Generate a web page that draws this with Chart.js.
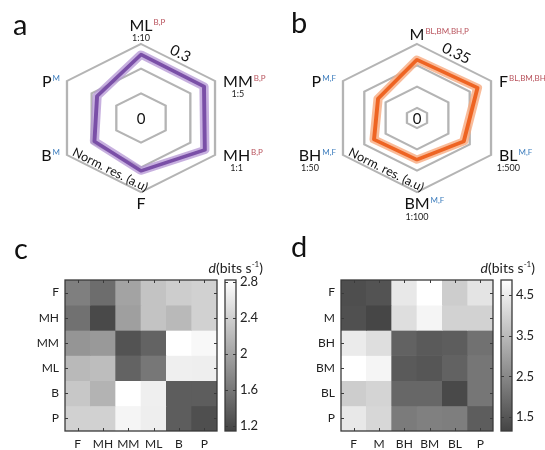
<!DOCTYPE html>
<html>
<head>
<meta charset="utf-8">
<script src="https://cdn.jsdelivr.net/npm/chart.js@4.4.1/dist/chart.umd.min.js"></script>
<style>
  body { margin: 0; background: #fff; font-family: Lato, sans-serif; }
  #fig { position: relative; width: 545px; height: 450px; overflow: hidden; }
  canvas { position: absolute; }
  .letter { position: absolute; font-size: 29px; line-height: 1; color: #111; }
  .cbt { position: absolute; font-size: 14px; line-height: 1; color: #222; white-space: nowrap; }
  .cbt sup { font-size: 8px; vertical-align: 6px; line-height: 0; }
</style>
</head>
<body>
<div id="fig">
  <canvas id="radarA" width="270" height="225" style="left:0;top:0"></canvas>
  <canvas id="radarB" width="275" height="225" style="left:270px;top:0"></canvas>
  <canvas id="heatC" width="222" height="188" style="left:0;top:262px"></canvas>
  <canvas id="barC" width="50" height="188" style="left:222px;top:262px"></canvas>
  <canvas id="heatD" width="222" height="188" style="left:276px;top:262px"></canvas>
  <canvas id="barD" width="50" height="188" style="left:498px;top:262px"></canvas>
  <div class="letter" style="left:13px;top:9px">a</div>
  <div class="letter" style="left:291px;top:7px">b</div>
  <div class="letter" style="left:14px;top:233px">c</div>
  <div class="letter" style="left:291px;top:231px">d</div>
  <div class="cbt" style="right:282px;top:261px"><i>d</i>(bits s<sup>-1</sup>)</div>
  <div class="cbt" style="right:10px;top:261px"><i>d</i>(bits s<sup>-1</sup>)</div>
</div>
<script>
// ---- panel a: radar, mouse-lever ratios ----
const axesA = ["ML", "MM", "MH", "F", "B", "P"];
const supA = ["B,P", "B,P", "B,P", "", "M", "M"];
const ratioA = ["1:10", "1:5", "1:1", "", "", ""];
const resA = [0.236, 0.233, 0.238, 0.171, 0.133, 0.117];
const ringsA = [0, 0.15, 0.3];
const minA = -0.15;

// ---- panel b ----
const axesB = ["M", "F", "BL", "BM", "BH", "P"];
const supB = ["BL,BM,BH,P", "BL,BM,BH,P", "M,F", "M,F", "M,F", "M,F"];
const ratioB = ["", "", "1:500", "1:100", "1:50", ""];
const resB = [0.264, 0.276, 0.201, 0.173, 0.180, 0.158];
const ringsB = [0, 0.35 / 3, 0.7 / 3, 0.35];
const minB = -0.055;

// ---- panel c: distances, rows top->bottom ----
const labelsC = ["F", "MH", "MM", "ML", "B", "P"];
const distC = [
  [1.67, 1.51, 2.00, 2.28, 2.37, 2.41],
  [1.55, 1.19, 1.96, 2.28, 2.19, 2.41],
  [1.87, 1.91, 1.28, 1.42, 2.82, 2.76],
  [2.19, 2.23, 1.42, 1.60, 2.68, 2.67],
  [2.32, 2.14, 2.82, 2.68, 1.37, 1.37],
  [2.41, 2.41, 2.73, 2.67, 1.37, 1.24]
];
const rangeC = [1.145, 2.82];
const cbTicksC = [1.2, 1.6, 2, 2.4, 2.8];

// ---- panel d ----
const labelsD = ["F", "M", "BH", "BM", "BL", "P"];
const distD = [
  [1.36, 1.46, 4.41, 4.87, 3.87, 4.33],
  [1.40, 1.20, 4.21, 4.67, 3.97, 3.97],
  [4.47, 4.21, 1.76, 1.60, 1.66, 2.06],
  [4.87, 4.67, 1.60, 1.52, 1.76, 2.16],
  [3.87, 4.01, 1.86, 1.86, 1.26, 2.16],
  [4.41, 4.07, 2.26, 2.36, 2.32, 1.66]
];
const rangeD = [1.16, 4.87];
const cbTicksD = [1.5, 2.5, 3.5, 4.5];

Chart.defaults.font.family = "Lato, sans-serif";
const FONT = "Lato, sans-serif";
const SX = 1.155; // original axes were not square, hexagons are wider than tall
const DARK = 68;
const RED = "#b8525c", BLUE = "#3d7dbd";

function gray(v, lo, hi) {
  const t = Math.max(0, Math.min(1, (v - lo) / (hi - lo)));
  const g = Math.round(DARK + t * (255 - DARK));
  return "rgb(" + g + "," + g + "," + g + ")";
}

const stretch = {
  id: "stretch",
  beforeDraw(chart) {
    const cx = chart.scales.r.xCenter, ctx = chart.ctx;
    ctx.save();
    ctx.translate(cx, 0);
    ctx.scale(SX, 1);
    ctx.translate(-cx, 0);
  },
  afterDraw(chart) { chart.ctx.restore(); }
};

function radarLabels(names, sups, ratios, edgeText) {
  return {
    id: "radarLabels",
    afterDraw(chart) {
      const s = chart.scales.r, ctx = chart.ctx;
      const cx = s.xCenter, cy = s.yCenter, R = s.drawingArea;
      const vtx = (i) => {
        const p = s.getPointPosition(i, R);
        return { x: cx + (p.x - cx) * SX, y: p.y };
      };
      ctx.save();
      ctx.textAlign = "left";
      ctx.textBaseline = "alphabetic";
      names.forEach((name, i) => {
        const v = vtx(i);
        const dx = v.x - cx;
        ctx.font = "16px " + FONT;
        const wMain = ctx.measureText(name).width;
        ctx.font = "8px " + FONT;
        const wSup = sups[i] ? ctx.measureText(sups[i]).width + 1 : 0;
        let x, base;
        if (Math.abs(dx) < 1) {
          x = cx - wMain / 2;
          base = v.y < cy ? v.y - (ratios[i] ? 13 : 4) : v.y + 17;
        } else if (dx > 0) {
          x = v.x + 8; base = v.y + 5.5;
        } else {
          x = v.x - 7 - wSup - wMain; base = v.y + 5.5;
        }
        ctx.fillStyle = "#111";
        ctx.font = "16px " + FONT;
        ctx.fillText(name, x, base);
        if (sups[i]) {
          ctx.font = "8px " + FONT;
          ctx.fillStyle = sups[i].indexOf("M") === 0 ? BLUE : RED;
          ctx.fillText(sups[i], x + wMain + 1, base - 6);
        }
        if (ratios[i]) {
          ctx.font = "9px " + FONT;
          ctx.fillStyle = "#222";
          ctx.textAlign = "center";
          ctx.fillText(ratios[i], x + wMain / 2, base + (Math.abs(dx) < 1 && v.y < cy ? 9.5 : 10.5));
          ctx.textAlign = "left";
        }
      });

      // "0" at the centre
      ctx.fillStyle = "#111";
      ctx.font = "15px " + FONT;
      ctx.textAlign = "center";
      ctx.textBaseline = "middle";
      ctx.fillText("0", cx, cy + 1);

      // max value along the upper-right edge
      let a = vtx(0), b = vtx(1);
      let ang = Math.atan2(b.y - a.y, b.x - a.x);
      ctx.save();
      ctx.translate((a.x + b.x) / 2 + Math.sin(ang) * 9 - Math.cos(ang) * 2,
                    (a.y + b.y) / 2 - Math.cos(ang) * 9 - Math.sin(ang) * 2);
      ctx.rotate(ang);
      ctx.font = "15px " + FONT;
      ctx.fillText(edgeText, 0, 0);
      ctx.restore();

      // axis title along the lower-left edge
      a = vtx(4); b = vtx(3);
      ang = Math.atan2(b.y - a.y, b.x - a.x);
      ctx.save();
      ctx.translate((a.x + b.x) / 2 + Math.sin(ang) * 6 + Math.cos(ang) * 4,
                    (a.y + b.y) / 2 - Math.cos(ang) * 6 + Math.sin(ang) * 4);
      ctx.rotate(ang);
      ctx.font = "12.5px " + FONT;
      ctx.fillText("Norm. res. (a.u)", 0, 0);
      ctx.restore();
      ctx.restore();
    }
  };
}

function radar(id, names, sups, ratios, values, rings, min, lineCol, bandCol, edgeText, pad) {
  new Chart(document.getElementById(id), {
    type: "radar",
    data: {
      labels: names,
      datasets: [
        { data: values, borderColor: lineCol, borderWidth: 3.4, fill: false, order: 0 },
        { data: values, borderColor: bandCol, borderWidth: 8, fill: false, order: 1 }
      ]
    },
    options: {
      responsive: false,
      animation: false,
      layout: { padding: pad },
      elements: { line: { tension: 0, borderJoinStyle: "round" }, point: { radius: 0, hoverRadius: 0 } },
      plugins: { legend: { display: false }, tooltip: { enabled: false } },
      scales: {
        r: {
          min: min,
          max: rings[rings.length - 1],
          afterBuildTicks: (s) => { s.ticks = [min].concat(rings).map((v) => ({ value: v })); },
          ticks: { display: false },
          pointLabels: { display: false },
          angleLines: { display: false },
          grid: { color: "#b4b4b4", lineWidth: 2 }
        }
      }
    },
    plugins: [stretch, radarLabels(names, sups, ratios, edgeText)]
  });
}

radar("radarA", axesA, supA, ratioA, resA, ringsA, minA, "#7a4fa7", "rgba(180,150,212,0.75)", "0.3",
  { left: 67, right: 55, top: 44, bottom: 33 });
radar("radarB", axesB, supB, ratioB, resB, ringsB, minB, "#ee6423", "rgba(247,170,128,0.8)", "0.35",
  { left: 73, right: 54, top: 44, bottom: 33 });

// frame with inward tick marks, like the original axes
function boxPlugin(withX) {
  return {
    id: "box",
    afterDraw(chart) {
      const { ctx, chartArea: a } = chart;
      ctx.save();
      ctx.strokeStyle = "#3a3a3a";
      ctx.lineWidth = 1.3;
      ctx.strokeRect(a.left, a.top, a.right - a.left, a.bottom - a.top);
      ctx.lineWidth = 1;
      ctx.beginPath();
      if (withX) {
        chart.scales.x.ticks.forEach((t, i) => {
          const x = Math.round(chart.scales.x.getPixelForTick(i)) + 0.5;
          ctx.moveTo(x, a.bottom); ctx.lineTo(x, a.bottom - 3);
          ctx.moveTo(x, a.top); ctx.lineTo(x, a.top + 3);
        });
      }
      const y = chart.scales.y;
      y.ticks.forEach((t, i) => {
        const py = Math.round(y.getPixelForTick(i)) + 0.5;
        ctx.moveTo(a.left, py); ctx.lineTo(a.left + 3, py);
        ctx.moveTo(a.right, py); ctx.lineTo(a.right - 3, py);
      });
      ctx.stroke();
      ctx.restore();
    }
  };
}

function heatmap(id, labels, rows, range) {
  new Chart(document.getElementById(id), {
    type: "bar",
    data: {
      labels: labels,
      datasets: rows.map((row, i) => ({
        label: labels[i],
        data: row.map(() => 1),
        backgroundColor: row.map((v) => gray(v, range[0], range[1])),
        borderWidth: 0
      }))
    },
    options: {
      responsive: false,
      animation: false,
      layout: { padding: { top: 18, right: 5 } },
      datasets: { bar: { barPercentage: 1, categoryPercentage: 1 } },
      plugins: { legend: { display: false }, tooltip: { enabled: false } },
      scales: {
        x: {
          stacked: true,
          grid: { display: false, drawTicks: false },
          border: { display: false },
          ticks: { color: "#222", font: { size: 12 }, padding: 6, maxRotation: 0 },
          afterFit: (s) => { s.height = 19; }
        },
        y: {
          stacked: true,
          reverse: true,
          min: 0,
          max: labels.length,
          afterBuildTicks: (s) => { s.ticks = labels.map((_, i) => ({ value: i + 0.5 })); },
          grid: { display: false, drawTicks: false },
          border: { display: false },
          ticks: { color: "#222", font: { size: 12 }, padding: 6, callback: (v, i) => labels[i] },
          afterFit: (s) => { s.width = 65; }
        }
      }
    },
    plugins: [boxPlugin(true)]
  });
}

function colorbar(id, range, ticks) {
  new Chart(document.getElementById(id), {
    type: "bar",
    data: {
      labels: [""],
      datasets: [{
        data: [[range[0], range[1]]],
        borderWidth: 0,
        barPercentage: 1,
        categoryPercentage: 1,
        backgroundColor: (c) => {
          const a = c.chart.chartArea;
          if (!a) return "#888";
          const g = c.chart.ctx.createLinearGradient(0, a.bottom, 0, a.top);
          g.addColorStop(0, gray(range[0], range[0], range[1]));
          g.addColorStop(1, gray(range[1], range[0], range[1]));
          return g;
        }
      }]
    },
    options: {
      responsive: false,
      animation: false,
      layout: { padding: { top: 18, left: 3, bottom: 19 } },
      plugins: { legend: { display: false }, tooltip: { enabled: false } },
      scales: {
        x: { display: false },
        y: {
          position: "right",
          min: range[0],
          max: range[1],
          afterBuildTicks: (s) => { s.ticks = ticks.map((v) => ({ value: v })); },
          grid: { display: false, drawTicks: false },
          border: { display: false },
          ticks: { color: "#222", font: { size: 13 }, padding: 4, callback: (v) => String(v) },
          afterFit: (s) => { s.width = 36; }
        }
      }
    },
    plugins: [boxPlugin(false)]
  });
}

heatmap("heatC", labelsC, distC, rangeC);
colorbar("barC", rangeC, cbTicksC);
heatmap("heatD", labelsD, distD, rangeD);
colorbar("barD", rangeD, cbTicksD);
</script>
</body>
</html>
